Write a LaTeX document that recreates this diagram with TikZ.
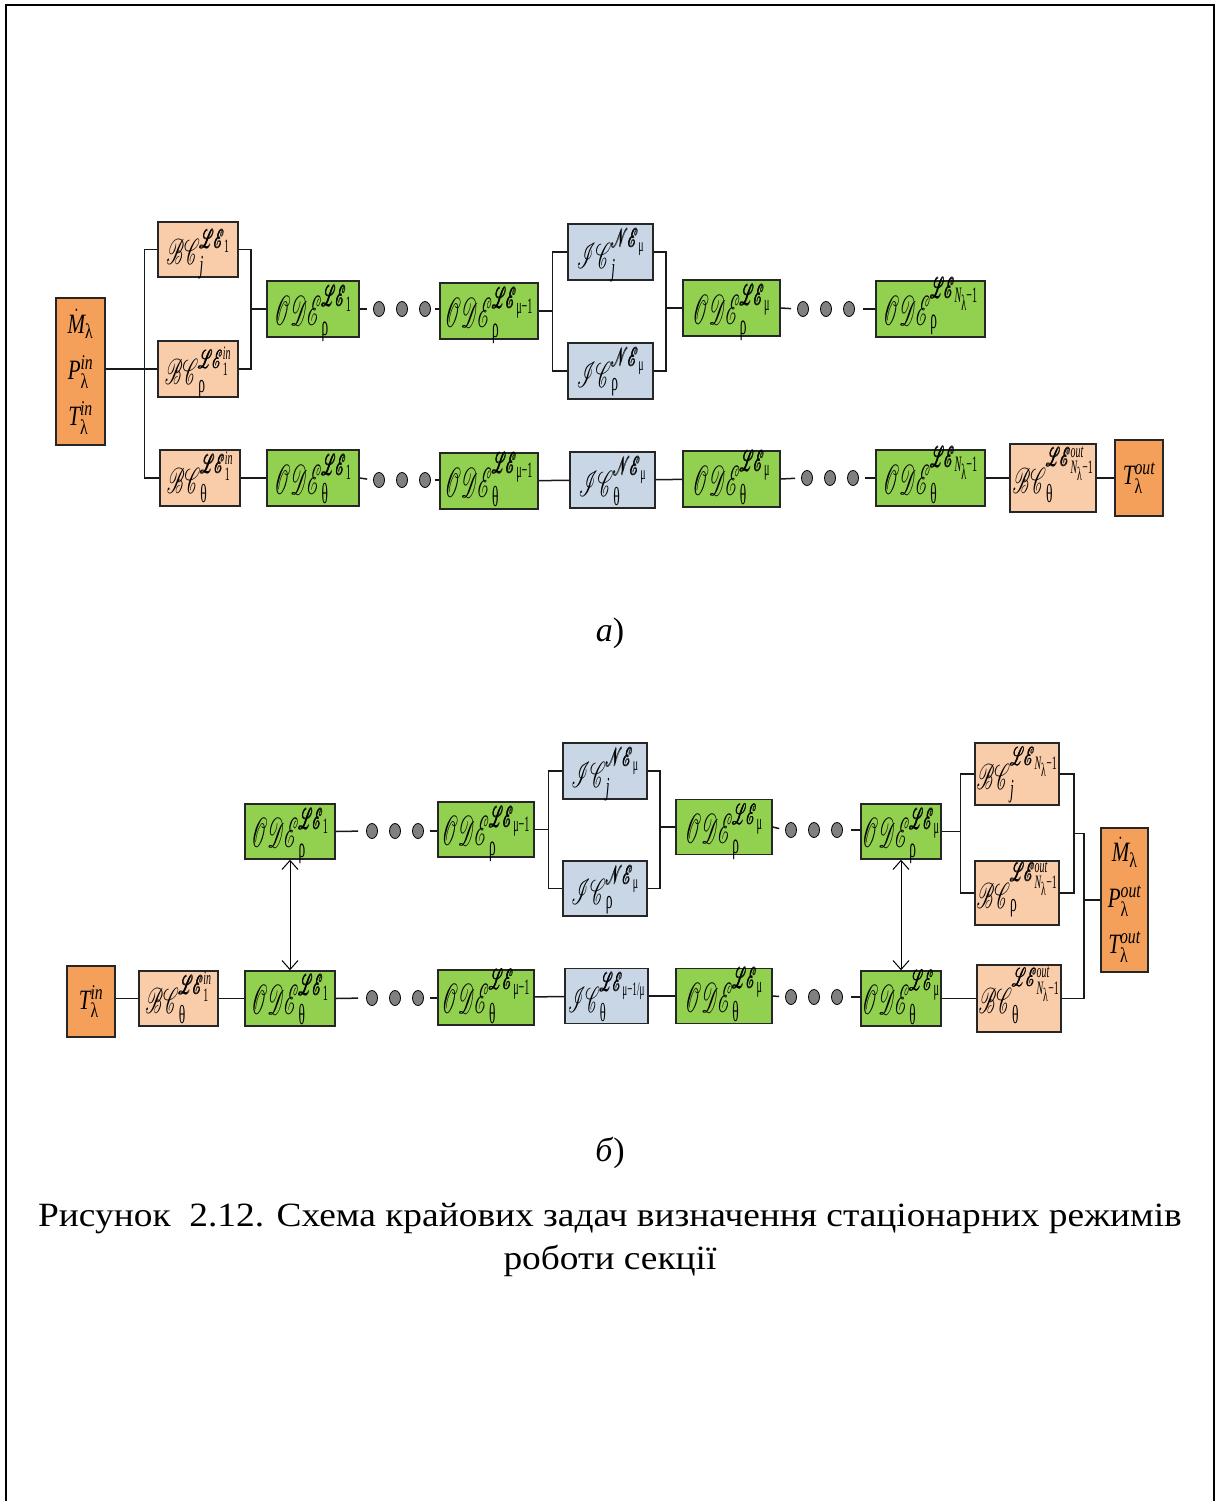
\RequirePackage{fix-cm}
\documentclass[tikz,border=0pt]{standalone}
\usepackage{amsmath}
\usepackage{mathrsfs}
\usepackage{graphicx}
\usepackage{fontspec}
\setmainfont{Liberation Serif}
\usetikzlibrary{arrows.meta,shapes.geometric,calc}
% scalable rsfs at every size
\DeclareFontFamily{U}{rsfs}{\skewchar\font127 }
\DeclareFontShape{U}{rsfs}{m}{n}{<-6> rsfs5 <6-8> rsfs7 <8-> rsfs10}{}
\DeclareMathSizes{42}{42}{29}{22}
\DeclareMathSizes{36}{36}{26}{19}
\DeclareMathSizes{28}{28}{21}{16}

\definecolor{orgc}{HTML}{F5A05A}
\definecolor{peachc}{HTML}{FACDAA}
\definecolor{greenc}{HTML}{92D050}
\definecolor{bluec}{HTML}{C8D6E6}
\definecolor{dotc}{HTML}{808080}

\newcommand{\up}[1]{\textrm{#1}}
\newcommand{\iv}[1]{\textit{#1}}
\newcommand{\LE}{\pmb{\mathscr{LE}}}
\newcommand{\NE}{\pmb{\mathscr{NE}}}
\newcommand{\lbl}[2][0.46]{\scalebox{#1}[1]{$#2$}}
\newcommand{\slbl}[2][0.52]{\scalebox{#1}[1]{$#2$}}
\newcommand{\olbl}[1]{\scalebox{0.75}[1]{$#1$}}
\newcommand{\Nl}{\iv{N}_{\up{λ}}\up{−1}}
\newcommand{\ode}[2]{\lbl{\mathscr{ODE}^{\LE_{#1}}_{\up{#2}}}}
\newcommand{\dotsat}[3]{%
  \node[dotn] (#1a) at (#2,#3) {};
  \node[dotn] (#1b) at (#2+23,#3) {};
  \node[dotn] (#1c) at (#2+46,#3) {};}

\tikzset{
  box/.style={draw=black!85, line width=1.5pt, inner sep=0pt, align=center},
  mbox/.style={box, font=\fontsize{42}{44}\selectfont,
    text height=32pt, text depth=0pt},
  sbox/.style={box, font=\fontsize{36}{38}\selectfont,
    text height=30pt, text depth=0pt},
  orgbox/.style={box, fill=orgc, font=\fontsize{28}{46}\selectfont},
  bcbox/.style={sbox, fill=peachc},
  odebox/.style={mbox, fill=greenc, minimum height=56},
  icbox/.style={sbox, fill=bluec, minimum height=56, text height=32pt},
  dotn/.style={ellipse, draw=black, line width=0.8pt, fill=dotc,
    minimum width=11, minimum height=15, inner sep=0pt},
  conn/.style={line width=1.5pt, draw=black!90},
  dbl/.style={line width=1pt, {Straight Barb[length=9pt,width=16pt]}-{Straight Barb[length=9pt,width=16pt]}},
}

\begin{document}
\begin{tikzpicture}[x=1pt,y=-1pt]
\useasboundingbox (0,0) rectangle (1219,1501);
% page frame
\draw[line width=2pt] (6,1501) -- (6,5) -- (1214,5) -- (1214,1501);

% ---------------- scheme (a) ----------------
\node[orgbox, minimum width=49, minimum height=147] (aIn) at (80.5,371.5)
  {\olbl{\dot{\iv{M}}_{\up{λ}}}\\ \olbl{\iv{P}^{\iv{in}}_{\up{λ}}}\\ \olbl{\iv{T}^{\iv{in}}_{\up{λ}}}};
\node[bcbox, minimum width=80, minimum height=55] (aBCj) at (198,249.5)
  {\slbl{\mathscr{BC}^{\LE_{\up{1}}}_{\iv{j}}}};
\node[bcbox, minimum width=80, minimum height=56] (aBCr) at (198,369)
  {\slbl{\mathscr{BC}^{\LE^{\iv{in}}_{\up{1}}}_{\up{ρ}}}};
\node[bcbox, minimum width=80, minimum height=56] (aBCt) at (200,478)
  {\slbl{\mathscr{BC}^{\LE^{\iv{in}}_{\up{1}}}_{\up{θ}}}};

\node[odebox, minimum width=92] (aO1r) at (313,309) {\ode{\up{1}}{ρ}};
\dotsat{aDa}{379}{309}
\node[odebox, minimum width=98] (aO2r) at (489,311) {\ode{\up{μ−1}}{ρ}};
\node[icbox, minimum width=85] (aICj) at (610.5,252)
  {\slbl{\mathscr{IC}^{\NE_{\up{μ}}}_{\iv{j}}}};
\node[icbox, minimum width=85] (aICr) at (610.5,371)
  {\slbl{\mathscr{IC}^{\NE_{\up{μ}}}_{\up{ρ}}}};
\node[odebox, minimum width=97] (aO3r) at (731.5,308) {\ode{\up{μ}}{ρ}};
\dotsat{aDb}{803}{309}
\node[odebox, minimum width=109] (aO4r) at (930.5,309) {\ode{\Nl}{ρ}};

\node[odebox, minimum width=92] (aO1t) at (313,478) {\ode{\up{1}}{θ}};
\dotsat{aDc}{379}{480}
\node[odebox, minimum width=98] (aO2t) at (489,481) {\ode{\up{μ−1}}{θ}};
\node[icbox, minimum width=85] (aICt) at (612.5,480)
  {\slbl{\mathscr{IC}^{\NE_{\up{μ}}}_{\up{θ}}}};
\node[odebox, minimum width=97] (aO3t) at (731.5,479) {\ode{\up{μ}}{θ}};
\dotsat{aDd}{807}{478}
\node[odebox, minimum width=109] (aO4t) at (930.5,478) {\ode{\Nl}{θ}};
\node[bcbox, minimum width=86, minimum height=68] (aBCo) at (1053,478)
  {\slbl{\mathscr{BC}^{\LE^{\iv{out}}_{\Nl}}_{\up{θ}}}};
\node[orgbox, minimum width=48, minimum height=76] (aTo) at (1139,478)
  {\olbl{\iv{T}^{\iv{out}}_{\up{λ}}}};

% connectors (a)
\draw[conn] (aBCr.west -| aIn.east) -- (aBCr.west);
\draw[conn] (aBCj.west) -- ++(-13,0) coordinate (aL1) |- (aBCt.west);
\draw[conn] (aBCj.east) -- ++(12,0) coordinate (aR1) |- (aBCr.east);
\draw[conn] (aO1r.west) -- (aO1r.west -| aR1);
\draw[conn, shorten >=6pt] (aO1r.east) -- (aDaa.west);
\draw[conn, shorten <=4pt] (aDac.east) -- (aDac.east -| aO2r.west);
\draw[conn] (aICj.west) -- ++(-15,0) coordinate (aL2) |- (aICr.west);
\draw[conn] (aO2r.east) -- (aO2r.east -| aL2);
\draw[conn] (aICj.east) -- ++(12,0) coordinate (aR2) |- (aICr.east);
\draw[conn] (aO3r.west) -- (aO3r.west -| aR2);
\draw[conn, shorten >=6pt] (aO3r.east) -- (aDba.west);
\draw[conn, shorten <=8pt] (aDbc.east) -- (aO4r.west);

\draw[conn] (aBCt) -- (aO1t);
\draw[conn, shorten >=6pt] (aO1t.east) -- (aDca.west);
\draw[conn, shorten <=4pt] (aDcc.east) -- (aDcc.east -| aO2t.west);
\draw[conn] (aO2t) -- (aICt);
\draw[conn] (aICt) -- (aO3t);
\draw[conn, shorten >=6pt] (aO3t.east) -- (aDda.west);
\draw[conn, shorten <=6pt] (aDdc.east) -- (aO4t.west);
\draw[conn] (aO4t) -- (aBCo);
\draw[conn] (aBCo) -- (aTo);

\node (capA) at (610,633) {\fontsize{34}{40}\selectfont\textit{а})};

% ---------------- scheme (b) ----------------
\node[orgbox, minimum width=48, minimum height=71] (bTi) at (91,1001.5)
  {\olbl{\iv{T}^{\iv{in}}_{\up{λ}}}};
\node[bcbox, minimum width=79, minimum height=55] (bBCt) at (178.5,998.5)
  {\slbl{\mathscr{BC}^{\LE^{\iv{in}}_{\up{1}}}_{\up{θ}}}};
\node[odebox, minimum width=90, minimum height=55] (bO1t) at (290,998.5) {\ode{\up{1}}{θ}};
\node[odebox, minimum width=90, minimum height=55] (bO1r) at (290,831.5) {\ode{\up{1}}{ρ}};
\dotsat{bDa}{372}{831}
\node[odebox, minimum width=96, minimum height=55] (bO2r) at (486,829.5) {\ode{\up{μ−1}}{ρ}};
\node[icbox, minimum width=84] (bICj) at (605,771)
  {\slbl{\mathscr{IC}^{\NE_{\up{μ}}}_{\iv{j}}}};
\node[icbox, minimum width=84, minimum height=55] (bICr) at (605,888.5)
  {\slbl{\mathscr{IC}^{\NE_{\up{μ}}}_{\up{ρ}}}};
\node[odebox, minimum width=96, minimum height=55] (bO3r) at (724,827) {\ode{\up{μ}}{ρ}};
\dotsat{bDb}{791}{830}
\node[odebox, minimum width=80, minimum height=55] (bO4r) at (901,831.5) {\ode{\up{μ}}{ρ}};
\node[bcbox, minimum width=84, minimum height=62] (bBCj) at (1017,774)
  {\slbl{\mathscr{BC}^{\LE_{\Nl}}_{\iv{j}}}};
\node[bcbox, minimum width=84, minimum height=64] (bBCr) at (1017,893)
  {\slbl{\mathscr{BC}^{\LE^{\iv{out}}_{\Nl}}_{\up{ρ}}}};
\node[bcbox, minimum width=84, minimum height=67] (bBCo) at (1019,998.5)
  {\slbl{\mathscr{BC}^{\LE^{\iv{out}}_{\Nl}}_{\up{θ}}}};
\node[orgbox, minimum width=47, minimum height=144] (bOut) at (1124.5,900)
  {\olbl{\dot{\iv{M}}_{\up{λ}}}\\ \olbl{\iv{P}^{\iv{out}}_{\up{λ}}}\\ \olbl{\iv{T}^{\iv{out}}_{\up{λ}}}};

\dotsat{bDc}{372}{998}
\node[odebox, minimum width=96, minimum height=55] (bO2t) at (486,997.5) {\ode{\up{μ−1}}{θ}};
\node[icbox, minimum width=83, minimum height=55] (bICt) at (606.5,996)
  {\slbl[0.48]{\mathscr{IC}^{\LE_{\up{μ−1/μ}}}_{\up{θ}}}};
\node[odebox, minimum width=96, minimum height=55] (bO3t) at (724,996) {\ode{\up{μ}}{θ}};
\dotsat{bDd}{791}{997}
\node[odebox, minimum width=80, minimum height=55] (bO4t) at (901,998.5) {\ode{\up{μ}}{θ}};

% connectors (b)
\draw[conn] (bTi.east |- bBCt.west) -- (bBCt.west);
\draw[conn] (bBCt) -- (bO1t);
\draw[dbl] (bO1r) -- (bO1t);
\draw[conn, shorten >=8pt] (bO1r.east) -- (bDaa.west);
\draw[conn, shorten <=6pt] (bDac.east) -- (bDac.east -| bO2r.west);
\draw[conn] (bICj.west) -- ++(-14,0) coordinate (bL1) |- (bICr.west);
\draw[conn] (bO2r.east) -- (bO2r.east -| bL1);
\draw[conn] (bICj.east) -- ++(12,0) coordinate (bR1) |- (bICr.east);
\draw[conn] (bO3r.west) -- (bO3r.west -| bR1);
\draw[conn, shorten >=6pt] (bO3r.east) -- (bDba.west);
\draw[conn, shorten <=8pt] (bDbc.east) -- (bDbc.east -| bO4r.west);
\draw[conn] (bBCj.west) -- ++(-14,0) coordinate (bL2) |- (bBCr.west);
\draw[conn] (bO4r.east) -- (bO4r.east -| bL2);
\draw[conn] (bBCj.east) -- ++(14,0) coordinate (bR2) |- (bBCr.east);
\coordinate (bM2) at ($(bR2)!0.5!(bR2 |- bBCr.east)$);
\draw[conn] (bM2) -- ++(10,0) coordinate (bR3) |- (bBCo.east);
\draw[conn] (bOut.west) -- (bOut.west -| bR3);
\draw[dbl] (bO4r) -- (bO4t);

\draw[conn, shorten >=8pt] (bO1t.east) -- (bDca.west);
\draw[conn, shorten <=6pt] (bDcc.east) -- (bDcc.east -| bO2t.west);
\draw[conn] (bO2t) -- (bICt);
\draw[conn] (bICt) -- (bO3t);
\draw[conn, shorten >=6pt] (bO3t.east) -- (bDda.west);
\draw[conn, shorten <=8pt] (bDdc.east) -- (bDdc.east -| bO4t.west);
\draw[conn] (bO4t) -- (bBCo);

\node (capB) at (610,1153) {\fontsize{34}{40}\selectfont\textit{б})};

% figure caption
\node[align=center, font=\fontsize{34}{43}\selectfont] (cap) at (610,1240)
  {\scalebox{1.1}[1]{Рисунок\ \ 2.12. Схема крайових задач визначення стаціонарних режимів}\\
   \scalebox{1.1}[1]{роботи секції}};
\end{tikzpicture}
\end{document}
